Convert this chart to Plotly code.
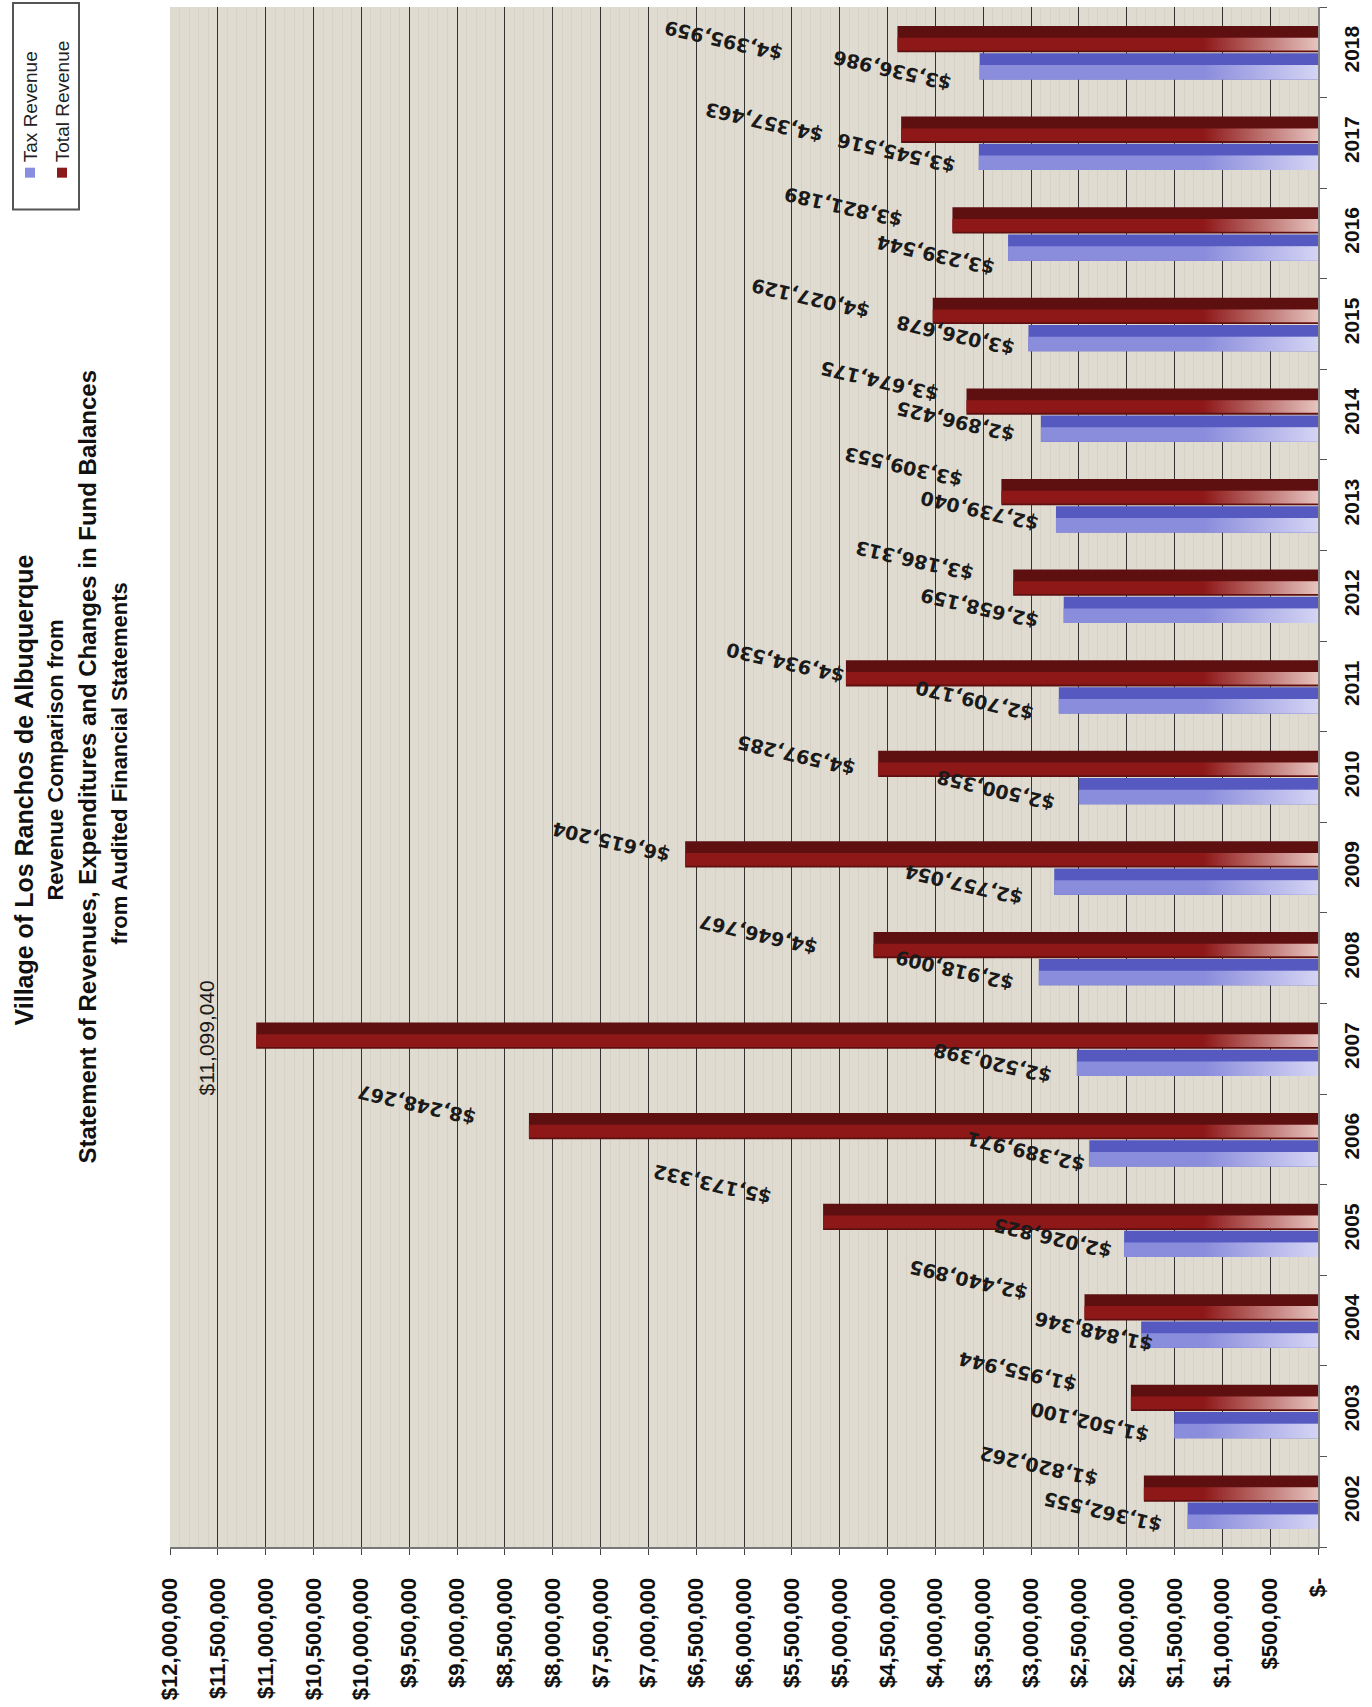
import plotly.graph_objects as go

# ---------------- data ----------------
years = [2002, 2003, 2004, 2005, 2006, 2007, 2008, 2009, 2010,
         2011, 2012, 2013, 2014, 2015, 2016, 2017, 2018]
tax_revenue = [1362555, 1502100, 1848346, 2026825, 2389971, 2520398, 2918009,
               2757054, 2500358, 2709170, 2658159, 2739040, 2896425, 3026678,
               3239544, 3545516, 3536986]
total_revenue = [1820262, 1955944, 2440895, 5173332, 8248267, 11099040, 4646767,
                 6615204, 4597285, 4934530, 3186313, 3309553, 3674175, 4027129,
                 3821189, 4357463, 4395959]
value_ticks = [0, 500000, 1000000, 1500000, 2000000, 2500000, 3000000, 3500000,
               4000000, 4500000, 5000000, 5500000, 6000000, 6500000, 7000000,
               7500000, 8000000, 8500000, 9000000, 9500000, 10000000, 10500000,
               11000000, 11500000, 12000000]
value_tick_labels = ["$-", "$500,000", "$1,000,000", "$1,500,000", "$2,000,000",
                     "$2,500,000", "$3,000,000", "$3,500,000", "$4,000,000",
                     "$4,500,000", "$5,000,000", "$5,500,000", "$6,000,000",
                     "$6,500,000", "$7,000,000", "$7,500,000", "$8,000,000",
                     "$8,500,000", "$9,000,000", "$9,500,000", "$10,000,000",
                     "$10,500,000", "$11,000,000", "$11,500,000", "$12,000,000"]
title_lines = ["Village of Los Ranchos de Albuquerque",
               "Revenue Comparison from",
               "Statement of Revenues, Expenditures and Changes in Fund Balances",
               "from Audited Financial Statements"]
series_names = ["Tax Revenue", "Total Revenue"]

# ---------------- label placement (layout, in axis units) ----------------
tax_lbl_x = [2.249, 2.385, 2.343, 2.772, 3.054, 3.400, 3.797, 3.703, 3.368,
             3.588, 3.536, 3.536, 3.787, 3.787, 3.996, 4.404, 4.446]
tax_lbl_dy = [-0.115, -0.123, -0.121, -0.097, -0.139, -0.159, -0.134, -0.198,
              -0.152, -0.161, -0.137, -0.07, -0.08, -0.13, -0.24, -0.114, -0.2]
tot_lbl_x = [2.918, 3.138, 3.651, 6.328, 9.425, 11.621, 5.847, 7.385, 5.450,
             5.565, 4.215, 4.331, 4.582, 5.303, 4.958, 5.785, 6.213]
tot_lbl_dy = [0.392, 0.438, 0.44, 0.498, 0.379, 0.117, 0.262, 0.275, 0.233,
              0.258, 0.39, 0.416, 0.363, 0.278, 0.29, 0.227, 0.119]

def money(v):
    return "${:,}".format(v)

# plot area in pixels
PL, PR, PT, PB = 170, 1318, 7, 1550
W, H = 1372, 1707
def px(x):
    return (x - PL) / (PR - PL)
def py(y):
    return (PB - y) / (PB - PT)

fig = go.Figure()

BAR_W = 0.29
# Tax revenue (blue) below centre
fig.add_trace(go.Bar(y=years, x=tax_revenue, orientation="h", width=BAR_W,
                     offset=-0.30, marker=dict(color="#5559c0", line=dict(width=0)),
                     name=series_names[0], showlegend=False, hoverinfo="x"))
fig.add_trace(go.Bar(y=years, x=tax_revenue, orientation="h", width=0.16,
                     offset=-0.30, marker=dict(color="#8a8cdc", line=dict(width=0)),
                     showlegend=False, hoverinfo="skip"))
# Total revenue (red) above centre
fig.add_trace(go.Bar(y=years, x=total_revenue, orientation="h", width=BAR_W,
                     offset=0.0, marker=dict(color="#5e1010", line=dict(width=0)),
                     name=series_names[1], showlegend=False, hoverinfo="x"))
fig.add_trace(go.Bar(y=years, x=total_revenue, orientation="h", width=0.14,
                     offset=0.02, marker=dict(color="#8e1818", line=dict(width=0)),
                     showlegend=False, hoverinfo="skip"))

# light fade toward the base of each bar (style effect derived from bar data)
FADE = 1200000
def fade_shape(values, lo, hi):
    xs, ys = [], []
    for yr, v in zip(years, values):
        x0 = min(v, FADE)
        xs += [x0, 0, 0, x0, x0, None]
        ys += [yr + lo, yr + lo, yr + hi, yr + hi, yr + lo, None]
    return xs, ys

xs, ys = fade_shape(tax_revenue, -0.30, -0.14)
fig.add_trace(go.Scatter(x=xs, y=ys, mode="lines", line=dict(width=0), fill="toself",
                         fillgradient=dict(type="horizontal", start=FADE, stop=0,
                                           colorscale=[[0, "rgba(225,225,248,0)"],
                                                       [1, "rgba(225,225,248,0.85)"]]),
                         showlegend=False, hoverinfo="skip"))
xs, ys = fade_shape(total_revenue, 0.02, 0.16)
fig.add_trace(go.Scatter(x=xs, y=ys, mode="lines", line=dict(width=0), fill="toself",
                         fillgradient=dict(type="horizontal", start=FADE, stop=0,
                                           colorscale=[[0, "rgba(240,215,210,0)"],
                                                       [1, "rgba(240,215,210,0.9)"]]),
                         showlegend=False, hoverinfo="skip"))

ann = []
LBL_FONT = dict(family="DejaVu Sans, Verdana, sans-serif", size=19, color="#1a1a1a", weight="bold")
for i, yr in enumerate(years):
    ann.append(dict(x=tax_lbl_x[i] * 1e6, y=yr + tax_lbl_dy[i], xref="x", yref="y",
                    text=money(tax_revenue[i]), showarrow=False, textangle=-167,
                    xanchor="center", yanchor="middle", font=LBL_FONT))
    if total_revenue[i] > 10000000:
        ann.append(dict(x=tot_lbl_x[i] * 1e6, y=yr + tot_lbl_dy[i], xref="x", yref="y",
                        text=money(total_revenue[i]), showarrow=False, textangle=-90,
                        xanchor="center", yanchor="middle",
                        font=dict(family="Liberation Sans, Arial", size=21, color="#1a1a1a")))
    else:
        ann.append(dict(x=tot_lbl_x[i] * 1e6, y=yr + tot_lbl_dy[i], xref="x", yref="y",
                        text=money(total_revenue[i]), showarrow=False, textangle=-167,
                        xanchor="center", yanchor="middle", font=LBL_FONT))

# title (rotated like the page)
title_x = [24, 56, 88, 120]
title_y = [792, 762, 768, 765]
title_size = [25, 22, 24, 22]
for t, tx, ty, ts in zip(title_lines, title_x, title_y, title_size):
    ann.append(dict(x=px(tx), y=py(ty), xref="paper", yref="paper", text="<b>" + t + "</b>",
                    showarrow=False, textangle=-90, xanchor="center", yanchor="middle",
                    font=dict(family="Liberation Sans, Arial, sans-serif",
                              size=ts, color="#111")))

# legend (rotated)
leg_x = [30, 62]
leg_col = ["#8a8ee0", "#8b1a1a"]
shapes = [dict(type="rect", xref="paper", yref="paper", x0=px(13), x1=px(79),
               y0=py(210), y1=py(3), line=dict(color="#555", width=2), fillcolor="white",
               layer="above")]
for name, lx, lc in zip(series_names, leg_x, leg_col):
    shapes.append(dict(type="rect", xref="paper", yref="paper", x0=px(lx - 5), x1=px(lx + 5),
                       y0=py(178), y1=py(168), line=dict(width=0), fillcolor=lc, layer="above"))
    ann.append(dict(x=px(lx), y=py(165), xref="paper", yref="paper", text=name,
                    showarrow=False, textangle=-90, xanchor="center", yanchor="bottom",
                    font=dict(family="Liberation Sans, Arial, sans-serif",
                              size=19, color="#222")))

fig.update_layout(
    width=W, height=H,
    margin=dict(l=PL, r=W - PR, t=PT, b=H - PB),
    paper_bgcolor="white", plot_bgcolor="#dfdbd0",
    barmode="overlay", showlegend=False,
    annotations=ann, shapes=shapes,
    xaxis=dict(range=[12000000, 0], tickmode="array", tickvals=value_ticks,
               ticktext=value_tick_labels, tickangle=-90,
               tickfont=dict(family="Liberation Sans, Arial", size=22, color="#111", weight="bold"),
               ticks="outside", ticklen=6, tickcolor="#444", ticklabelstandoff=14,
               showgrid=True, gridcolor="#333333", gridwidth=1.4, zeroline=False,
               showline=True, linecolor="#777", linewidth=2,
               minor=dict(tickmode="linear", tick0=0, dtick=100000, showgrid=True,
                          gridcolor="#d6d2c6", gridwidth=1, ticks="")),
    yaxis=dict(range=[2001.5, 2018.5], side="right", tickmode="array", tickvals=years,
               ticktext=[str(y) for y in years], tickangle=-90, ticks="",
               tickfont=dict(family="Liberation Sans, Arial, sans-serif",
                             size=21, color="#111", weight="bold"),
               ticklabelstandoff=14,
               minor=dict(tickmode="array", tickvals=[y - 0.5 for y in years] + [years[-1] + 0.5],
                          ticks="outside", ticklen=7, tickcolor="#555", showgrid=False),
               showgrid=False, zeroline=False, showline=True, linecolor="#888", linewidth=2),
)

fig.write_html("out.html")
